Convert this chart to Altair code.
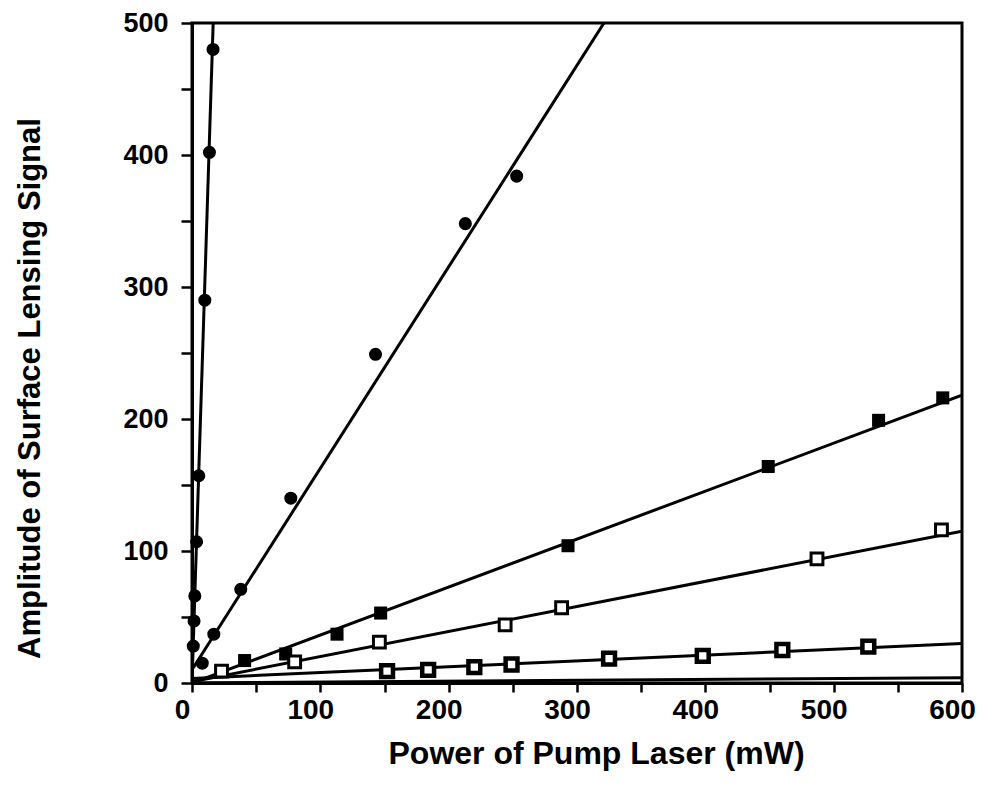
import altair as alt
import pandas as pd

# Filled circles, steep series
b_x = [1.0, 1.6, 2.2, 3.6, 5.3, 10.0, 13.6, 16.4]
b_y = [28, 47, 66, 107, 157, 290, 402, 480]
# Filled circles, moderate series
c_x = [8, 17, 38, 77, 143, 213, 253]
c_y = [15, 37, 71, 140, 249, 348, 384]
# Asterisk-like dark squares
d_x = [41, 73, 113, 147, 293, 449, 535, 585]
d_y = [17, 22, 37, 53, 104, 164, 199, 216]
# Open squares
e_x = [23, 80, 146, 244, 288, 487, 584]
e_y = [9, 16, 31, 44, 57, 94, 116]
# Heavy squares (lowest marked series)
f_x = [152, 184, 220, 249, 325, 398, 460, 527]
f_y = [9, 10, 12, 14, 18.5, 20.5, 25, 27.5]

# Fitted lines (end points)
line_series = ["B", "B", "C", "C", "D", "D", "E", "E", "F", "F", "G", "G"]
line_x = [0, 16.5, 0, 321, 0, 600, 0, 600, 0, 600, 0, 600]
line_y = [0, 500, 10, 500, 0, 218, 1, 115, 3.5, 30, 0, 4]

FONT = "Liberation Sans"

xs = alt.Scale(domain=[0, 600], nice=False, zero=False)
ys = alt.Scale(domain=[0, 500], nice=False, zero=False)

x_axis = alt.Axis(
    values=list(range(0, 601, 50)),
    labelExpr="datum.value % 100 === 0 ? datum.label : ''",
    title="Power of Pump Laser (mW)",
    grid=False, tickSize=9, tickWidth=2.5, tickColor="black",
    domainColor="black", domainWidth=3,
    labelFont=FONT, labelFontWeight="bold", labelFontSize=28, labelColor="black",
    labelPadding=4, labelFlush=False, labelOverlap=False, labelOffset=-10,
    titleFont=FONT, titleFontWeight="bold", titleFontSize=32, titleColor="black",
    titleX=404, titleY=55, titleBaseline="top",
)
y_axis = alt.Axis(
    values=list(range(0, 501, 50)),
    labelExpr="datum.value % 100 === 0 ? datum.label : ''",
    title="Amplitude of Surface Lensing Signal",
    grid=False, tickSize=11, tickWidth=2.5, tickColor="black",
    domainColor="black", domainWidth=3,
    labelFont=FONT, labelFontWeight="bold", labelFontSize=27, labelColor="black",
    labelPadding=13, labelOverlap=False,
    titleFont=FONT, titleFontWeight="bold", titleFontSize=31, titleColor="black",
    titleX=-146, titleY=365, titleBaseline="bottom",
)

lines_df = pd.DataFrame({"series": line_series, "x": line_x, "y": line_y})

base_lines = alt.Chart(lines_df).mark_line(color="black", strokeWidth=3, clip=True).encode(
    x=alt.X("x:Q", scale=xs, axis=x_axis),
    y=alt.Y("y:Q", scale=ys, axis=y_axis),
    detail="series:N",
)

def pts(xv, yv):
    return pd.DataFrame({"x": xv, "y": yv})

circ_df = pd.concat([pts(b_x, b_y), pts(c_x, c_y)])
circles = alt.Chart(circ_df).mark_point(
    shape="circle", filled=True, color="black", size=170, opacity=1
).encode(x=alt.X("x:Q", scale=xs), y=alt.Y("y:Q", scale=ys))

ast = alt.Chart(pts(d_x, d_y)).mark_point(
    shape="square", filled=True, color="black", size=170, opacity=1
).encode(x=alt.X("x:Q", scale=xs), y=alt.Y("y:Q", scale=ys))

open_sq = alt.Chart(pts(e_x, e_y)).mark_point(
    shape="square", filled=False, color="black", size=140, strokeWidth=3, opacity=1,
    fill="white", fillOpacity=1
).encode(x=alt.X("x:Q", scale=xs), y=alt.Y("y:Q", scale=ys))

heavy_sq = alt.Chart(pts(f_x, f_y)).mark_point(
    shape="square", filled=False, color="black", size=140, strokeWidth=4.5, opacity=1,
    fill="white", fillOpacity=1
).encode(x=alt.X("x:Q", scale=xs), y=alt.Y("y:Q", scale=ys))

chart = alt.layer(base_lines, circles, ast, open_sq, heavy_sq).properties(
    width=770, height=660,
    autosize=alt.AutoSizeParams(type="none"),
    padding={"left": 184, "top": 15, "right": 14, "bottom": 92},
    background="white",
).configure_view(stroke="black", strokeWidth=3)

chart.save("out.html", embed_options={"renderer": "svg", "actions": False})
